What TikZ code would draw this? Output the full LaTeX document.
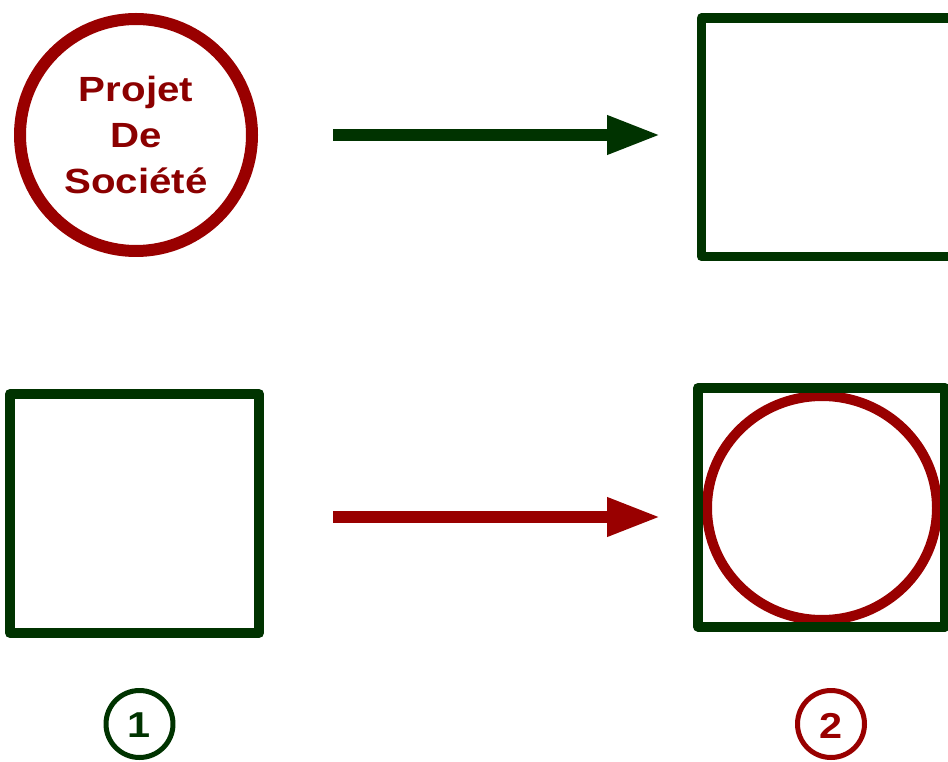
\documentclass[tikz,border=0pt]{standalone}
\usepackage{fontspec}
\usepackage{graphicx}
\setmainfont{Liberation Sans}
\usetikzlibrary{arrows.meta,shapes.geometric}

\definecolor{schemegreen}{HTML}{003300}
\definecolor{schemered}{HTML}{990000}
\definecolor{textred}{HTML}{8B0000}

% Text in the picture is set a little wide, and sits a little low.
\newcommand{\widetext}[2]{\raisebox{#1}[\height][\depth]{\scalebox{1.15}[1]{#2}}}

\begin{document}
\begin{tikzpicture}[
  x=1pt,
  y=-1pt,
  line join=round,
  box/.style={draw=schemegreen,line width=10pt,rectangle,inner sep=0pt,outer sep=0pt},
  ring/.style={draw=schemered,line width=11pt,inner sep=0pt,outer sep=0pt},
  arrowline/.style={line width=12.5pt,-{Triangle[length=54pt,width=36pt]}},
  badge/.style={circle,line width=5pt,minimum size=67pt,inner sep=0pt,
    font=\bfseries\fontsize{36}{36}\selectfont}
]
  \useasboundingbox (0,0) rectangle (948,762);
  \clip (0,0) rectangle (948,762);

  % Row 1: the circle and the empty square.
  \node[ring,circle,line width=12pt,minimum size=232pt,text=textred,
    font=\bfseries\fontsize{35}{45.7}\selectfont] (proj) at (136,135)
    {\widetext{-3.5pt}{\begin{tabular}{@{}c@{}}Projet\hspace{6pt}\\De\\Société\end{tabular}}};
  \node[box,line width=9.5pt,minimum width=251pt,minimum height=238.5pt] (topbox) at (827,137.25) {};

  % Row 2: the square, then the circle laid inside the square.
  \node[box,minimum width=249pt,minimum height=239pt] (leftbox) at (134.5,513.5) {};
  \node[ring,ellipse,line width=10pt,minimum width=230pt,minimum height=224pt] (inring) at (822,508) {};
  \node[box,minimum width=247pt,minimum height=238.5pt] (rightbox) at (821.5,507.25) {};

  % Arrows between the two columns.
  \draw[arrowline,draw=schemegreen,fill=schemegreen,shorten <=81pt,shorten >=40.5pt]
    (proj.east) -- (proj.east -| topbox.west);
  \draw[arrowline,draw=schemered,fill=schemered,shorten <=74pt,shorten >=37pt]
    ([yshift=-3.5pt]leftbox.east) -- ([yshift=-3.5pt]leftbox.east -| rightbox.west);

  % Step numbers.
  \node[badge,draw=schemegreen,text=schemegreen] (num1) at (139.5,724) {\widetext{-1.5pt}{1}};
  \node[badge,draw=schemered,text=schemered] (num2) at (831,724) {\widetext{-1.5pt}{2}};
\end{tikzpicture}
\end{document}
